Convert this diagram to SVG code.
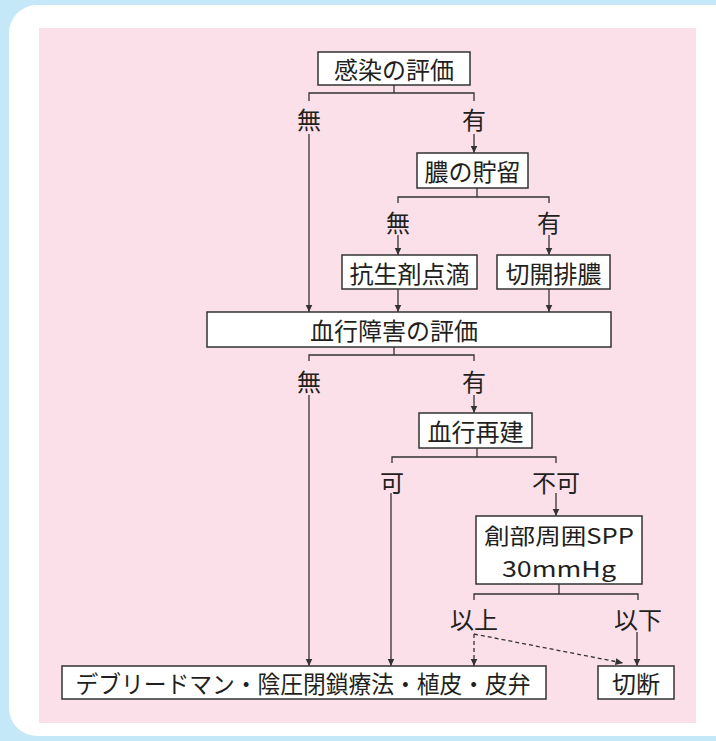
<svg xmlns="http://www.w3.org/2000/svg" width="716" height="741" viewBox="0 0 716 741">
<style>
.bx{fill:#fff;stroke:#333;stroke-width:1.5}
.t{font-family:"Noto Sans CJK JP","Noto Sans",sans-serif;font-size:24px;fill:#231f20;text-anchor:middle;dominant-baseline:central}
.t2{font-size:22px}
.ln{fill:none;stroke:#333;stroke-width:1.3}
.ar{marker-end:url(#ah)}
.ds{stroke-dasharray:4 3}
</style>
<defs>
<marker id="ah" markerUnits="userSpaceOnUse" markerWidth="8" markerHeight="8" refX="7.5" refY="3.5" orient="auto">
<path d="M0,0 L7.5,3.5 L0,7 z" fill="#333"/>
</marker>
</defs>
<rect x="0" y="0" width="716" height="741" fill="#c5e8f8"/>
<rect x="9" y="5" width="740" height="731" rx="28" fill="#fff"/>
<rect x="39" y="28" width="657" height="695" fill="#fbdfe9"/>

<g id="connectors">
<path class="ln" d="M394,85 V93 M309,101 V93 H474 V101"/>
<path class="ln ar" d="M309,134 V312"/>
<path class="ln ar" d="M474,134 V153"/>
<path class="ln" d="M477,188 V197 M398,203 V197 H549 V203"/>
<path class="ln ar" d="M398,235 V255"/>
<path class="ln ar" d="M549,235 V255"/>
<path class="ln ar" d="M398,289 V312"/>
<path class="ln ar" d="M549,289 V312"/>
<path class="ln" d="M394,347 V355 M309,361 V355 H474 V361"/>
<path class="ln ar" d="M309,395 V666"/>
<path class="ln ar" d="M474,395 V413"/>
<path class="ln" d="M477,448 V457 M392,463 V457 H556 V463"/>
<path class="ln ar" d="M391,493 V666"/>
<path class="ln ar" d="M556,493 V516"/>
<path class="ln" d="M559,584 V594 M474,600 V594 H638 V600"/>
<path class="ln ar" d="M637,632 V666"/>
<path class="ln ds ar" d="M474,634 V666"/>
<path class="ln ds ar" d="M474,634 L623,663"/>
</g>

<g id="labels">
<text class="t" x="309" y="118">無</text>
<text class="t" x="474" y="118">有</text>
<text class="t" x="398" y="221">無</text>
<text class="t" x="549" y="221">有</text>
<text class="t" x="309" y="380">無</text>
<text class="t" x="474" y="380">有</text>
<text class="t" x="392" y="481">可</text>
<text class="t" x="556" y="481">不可</text>
<text class="t" x="474" y="618">以上</text>
<text class="t" x="638" y="618">以下</text>
</g>

<g id="n1"><rect class="bx" x="318" y="52" width="152" height="33"/><text class="t" x="394" y="68.5">感染の評価</text></g>
<g id="n2"><rect class="bx" x="417" y="153" width="111" height="35"/><text class="t" x="472.5" y="170.5">膿の貯留</text></g>
<g id="n3"><rect class="bx" x="342" y="255" width="135" height="34"/><text class="t" x="409.5" y="272">抗生剤点滴</text></g>
<g id="n4"><rect class="bx" x="497" y="255" width="113" height="34"/><text class="t" x="553.5" y="272">切開排膿</text></g>
<g id="n5"><rect class="bx" x="207" y="312" width="404" height="35"/><text class="t" x="394" y="329.5">血行障害の評価</text></g>
<g id="n6"><rect class="bx" x="419" y="413" width="113" height="35"/><text class="t" x="475.5" y="430.5">血行再建</text></g>
<g id="n7"><rect class="bx" x="476" y="516" width="166" height="68"/><text class="t t2" x="559" y="534" textLength="150" lengthAdjust="spacingAndGlyphs">創部周囲SPP</text><text class="t t2" x="559" y="567" textLength="114" lengthAdjust="spacingAndGlyphs">30mmHg</text></g>
<g id="n8"><rect class="bx" x="62" y="666" width="484" height="33"/><text class="t" x="303" y="682.5" textLength="455" lengthAdjust="spacingAndGlyphs">デブリードマン・陰圧閉鎖療法・植皮・皮弁</text></g>
<g id="n9"><rect class="bx" x="598" y="666" width="76" height="33"/><text class="t" x="636" y="682.5">切断</text></g>
</svg>
